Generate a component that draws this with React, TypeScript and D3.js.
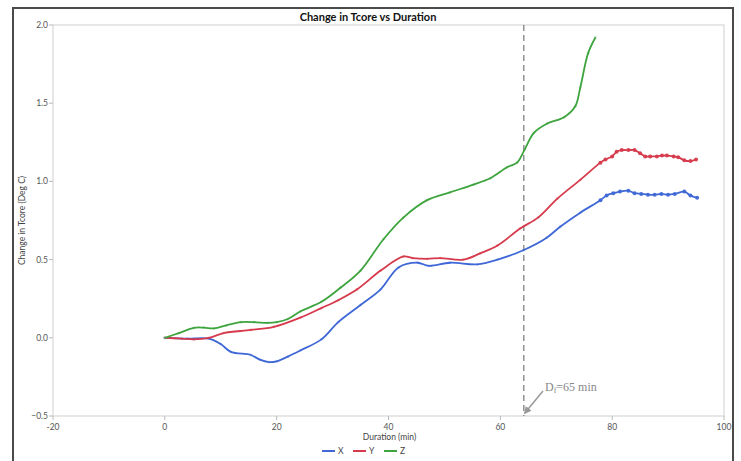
import React from "react";
import * as d3 from "d3";

const title = "Change in Tcore vs Duration";
const xLabel = "Duration (min)";
const yLabel = "Change in Tcore (Deg C)";
const xTicks = [-20, 0, 20, 40, 60, 80, 100];
const yTicks = [-0.5, 0.0, 0.5, 1.0, 1.5, 2.0];
const seriesNames = ["X", "Y", "Z"];
const seriesColors = ["#3f68d6", "#d63a4c", "#3ea43e"];
const markerLine = 64.2;

const xDur = [0, 4, 7.9, 10, 11.8, 15.4, 17, 18.6, 20, 22, 24.3, 28, 31, 35, 38.6, 41.8, 45.2, 47.2, 51, 55.9, 59.5, 64.1, 68.3, 70.7, 74.3, 77.9, 79, 80.2, 81.4, 82.9, 84, 85.2, 86.4, 87.6, 88.8, 90, 91.2, 92.9, 94, 95.2];
const xVal = [0, -0.005, -0.005, -0.04, -0.09, -0.11, -0.14, -0.155, -0.15, -0.12, -0.08, -0.01, 0.10, 0.21, 0.31, 0.45, 0.48, 0.46, 0.48, 0.47, 0.50, 0.56, 0.64, 0.71, 0.80, 0.88, 0.91, 0.925, 0.935, 0.94, 0.925, 0.92, 0.915, 0.915, 0.92, 0.915, 0.92, 0.935, 0.91, 0.895];

const yDur = [0, 3, 5.2, 7.9, 10.5, 15.4, 19.5, 24.3, 28, 31, 34.4, 38.6, 42.7, 44.3, 46.9, 49.3, 53.4, 56.4, 59.5, 63.6, 66.8, 70.2, 74.3, 77.9, 78.8, 80, 80.8, 81.7, 82.9, 84, 85, 85.9, 86.8, 88, 88.9, 89.8, 91, 91.8, 92.9, 94, 95];
const yVal = [0, -0.005, -0.01, 0, 0.03, 0.05, 0.07, 0.13, 0.19, 0.24, 0.31, 0.43, 0.52, 0.51, 0.505, 0.51, 0.50, 0.54, 0.59, 0.70, 0.77, 0.89, 1.01, 1.12, 1.14, 1.16, 1.19, 1.20, 1.20, 1.20, 1.18, 1.16, 1.16, 1.16, 1.165, 1.165, 1.16, 1.155, 1.135, 1.13, 1.14];

const zDur = [0, 2.5, 5.2, 7, 8.8, 11, 13.6, 16, 18.4, 20, 22, 24.3, 28, 31.4, 35, 39.1, 42.7, 46.9, 51, 55.2, 58.2, 61.2, 63, 64.3, 66, 68.4, 71.4, 73.4, 74.3, 75.7, 77];
const zVal = [0, 0.03, 0.064, 0.065, 0.06, 0.08, 0.10, 0.10, 0.095, 0.10, 0.12, 0.17, 0.23, 0.32, 0.43, 0.63, 0.77, 0.88, 0.93, 0.98, 1.02, 1.09, 1.12, 1.20, 1.31, 1.37, 1.41, 1.48, 1.60, 1.82, 1.92];

const W = 741;
const H = 461;
const plot = { left: 53, right: 724, top: 25, bottom: 416 };
const font = "Lato, 'Open Sans', sans-serif";

export default function App() {
  const x = d3.scaleLinear().domain([-20, 100]).range([plot.left, plot.right]);
  const y = d3.scaleLinear().domain([-0.5, 2.0]).range([plot.bottom, plot.top]);
  const line = d3
    .line<[number, number]>()
    .x((d) => x(d[0]))
    .y((d) => y(d[1]))
    .curve(d3.curveCatmullRom.alpha(0.5));

  const series = [
    { name: seriesNames[0], color: seriesColors[0], pts: xDur.map((t, i) => [t, xVal[i]] as [number, number]) },
    { name: seriesNames[1], color: seriesColors[1], pts: yDur.map((t, i) => [t, yVal[i]] as [number, number]) },
    { name: seriesNames[2], color: seriesColors[2], pts: zDur.map((t, i) => [t, zVal[i]] as [number, number]) },
  ];

  const tickColor = "#555";
  const arrowStart = [543, 391];
  const arrowEnd = [x(markerLine) + 1, 413];

  return (
    <svg
      width={W}
      height={H}
      style={{ position: "absolute", left: 0, top: 0, display: "block", background: "#fff" }}
    >
      <defs>
        <marker id="ah" viewBox="0 0 10 10" refX="8" refY="5" markerWidth="5" markerHeight="5" orient="auto">
          <path d="M0,0 L10,5 L0,10 z" fill="#999" />
        </marker>
      </defs>
      <path d={`M13,470 V8 H733 V470`} fill="none" stroke="#4a4a4a" strokeWidth={2} />
      <rect
        x={plot.left}
        y={plot.top}
        width={plot.right - plot.left}
        height={plot.bottom - plot.top}
        fill="none"
        stroke="#cfcfcf"
        strokeWidth={1}
      />
      <text x={368} y={21} textAnchor="middle" fontFamily={font} fontWeight="bold" fontSize={11} fill="#111">
        {title}
      </text>
      {yTicks.map((v) => (
        <g key={"y" + v}>
          <line x1={plot.left - 4} x2={plot.left} y1={y(v)} y2={y(v)} stroke="#bbb" />
          <text x={plot.left - 5} y={y(v) + 3} textAnchor="end" fontFamily={font} fontSize={8.5} fill={tickColor}>
            {d3.format(".1f")(v)}
          </text>
        </g>
      ))}
      {xTicks.map((v) => (
        <g key={"x" + v}>
          <line x1={x(v)} x2={x(v)} y1={plot.bottom} y2={plot.bottom + 4} stroke="#bbb" />
          <text x={x(v)} y={plot.bottom + 14} textAnchor="middle" fontFamily={font} fontSize={8.5} fill={tickColor}>
            {v}
          </text>
        </g>
      ))}
      <text x={(plot.left + plot.right) / 2 + 1} y={440} textAnchor="middle" fontFamily={font} fontSize={8.5} fill="#444">
        {xLabel}
      </text>
      <text
        transform={`translate(25,${(plot.top + plot.bottom) / 2}) rotate(-90)`}
        textAnchor="middle"
        fontFamily={font}
        fontSize={8.5}
        fill="#444"
      >
        {yLabel}
      </text>
      <line
        x1={x(markerLine)}
        x2={x(markerLine)}
        y1={plot.top}
        y2={plot.bottom}
        stroke="#777"
        strokeWidth={1.2}
        strokeDasharray="6,4"
      />
      {series.map((s) => (
        <g key={s.name}>
          <path d={line(s.pts) || ""} fill="none" stroke={s.color} strokeWidth={1.8} strokeLinejoin="round" />
          {s.pts.map((p, i) => {
            const tail = s.name !== "Z" && p[0] >= 77.5;
            return (
              <circle
                key={i}
                cx={x(p[0])}
                cy={y(p[1])}
                r={tail ? 2 : 1.4}
                fill={s.color}
                opacity={tail ? 0.95 : 0.35}
              />
            );
          })}
        </g>
      ))}
      <line
        x1={arrowStart[0]}
        y1={arrowStart[1]}
        x2={arrowEnd[0]}
        y2={arrowEnd[1]}
        stroke="#999"
        strokeWidth={1.5}
        markerEnd="url(#ah)"
      />
      <text x={545} y={391} fontFamily="'Liberation Serif', 'Times New Roman', serif" fontSize={12} fill="#888">
        D<tspan fontSize={8} dy={2}>f</tspan>
        <tspan dy={-2}>=65 min</tspan>
      </text>
      {series.map((s, i) => {
        const lx = 322 + i * 31;
        return (
          <g key={"lg" + s.name}>
            <line x1={lx} x2={lx + 13} y1={451} y2={451} stroke={s.color} strokeWidth={2} />
            <text x={lx + 16} y={454} fontFamily={font} fontSize={8.5} fill="#444">
              {s.name}
            </text>
          </g>
        );
      })}
    </svg>
  );
}
